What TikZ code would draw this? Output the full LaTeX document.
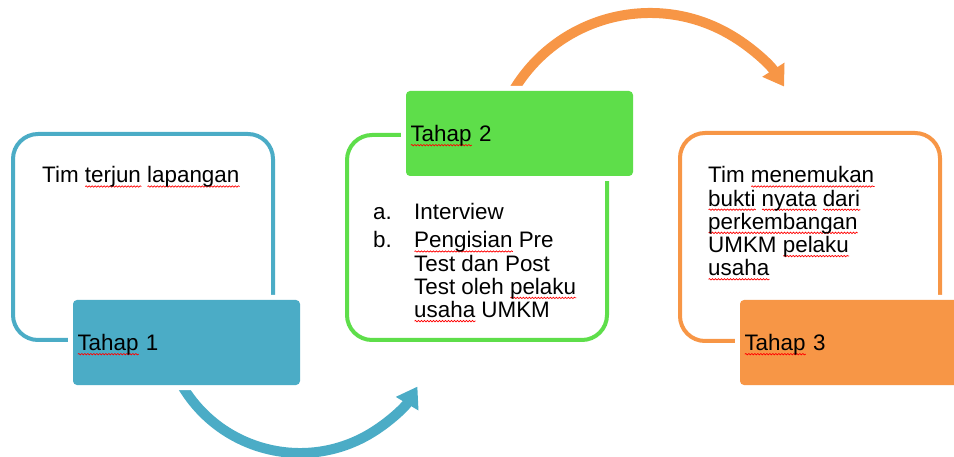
\documentclass[tikz,border=0pt]{standalone}
\usepackage{fontspec}
\setmainfont{Liberation Sans}
\usetikzlibrary{arrows.meta,decorations.pathmorphing}
\definecolor{cblue}{HTML}{4BACC6}
\definecolor{cgreen}{HTML}{5EDE4A}
\definecolor{corange}{HTML}{F79646}
\newsavebox\sqbox
\newcommand\sq[1]{\sbox\sqbox{#1}\rlap{\smash{\tikz[baseline=0pt,x=1pt,y=1pt,sharp corners]\draw[red,line width=0.7pt,sharp corners,decorate,decoration={snake,amplitude=0.7pt,segment length=3pt}] (0,-3.5) -- (\the\wd\sqbox,-3.5);}}\usebox\sqbox}
\begin{document}
\begin{tikzpicture}[x=1pt,y=-1pt,
  font=\fontsize{22.4}{23.2}\selectfont,
  panel/.style={line width=4pt, rounded corners=25pt},
  stage/.style={fill=#1, preaction={draw=white,line width=10pt}, rounded corners=4pt,
    minimum width=227pt, minimum height=85pt, text width=218pt, inner xsep=4.5pt,
    inner ysep=0pt, align=left, text height=16.4pt, text depth=0pt},
  flow/.style={line width=10pt, -{Triangle[length=20pt,width=25pt]}},
  txt/.style={inner sep=0pt, anchor=base west}]
\useasboundingbox (0,0) rectangle (954,457);
\clip (0,0) rectangle (954,457);
% curved arrows
\coordinate (bc) at (300,316);
\coordinate (oc) at (650,172);
\draw[flow, color=cblue] ([shift={(150:137)}]bc) arc[start angle=150, end angle=31, radius=137];
\draw[flow, color=corange] ([shift={(210:159)}]oc) arc[start angle=210, end angle=327.5, radius=159];
% panels
\draw[panel, cblue] (13,134) rectangle (273,340);
\draw[panel, cgreen] (347,135) rectangle (607,340);
\draw[panel, corange] (680,133) rectangle (940,341);
% stage boxes
\node[stage=cblue] (t1) at (186.5,342.5) {\sq{Tahap} 1};
\node[stage=cgreen] (t2) at (519.5,133.5) {\sq{Tahap} 2};
\node[stage=corange] (t3) at (853.5,342.5) {\sq{Tahap} 3};
% texts
\node[txt] (x1) at (42,183) {Tim \sq{terjun} \sq{lapangan}};
\node[txt] (x2) at (373,220) {\begin{tabular}[t]{@{}p{41pt}@{}l@{}}a.&Interview\\[4.8pt] b.&\sq{Pengisian} Pre\\ &Test dan Post\\ &Test oleh \sq{pelaku}\\ &\sq{usaha} UMKM\end{tabular}};
\node[txt] (x3) at (708,183) {\begin{tabular}[t]{@{}l@{}}Tim \sq{menemukan}\\ \sq{bukti} \sq{nyata} \sq{dari}\\ \sq{perkembangan}\\ UMKM \sq{pelaku}\\ \sq{usaha}\end{tabular}};
\end{tikzpicture}
\end{document}
